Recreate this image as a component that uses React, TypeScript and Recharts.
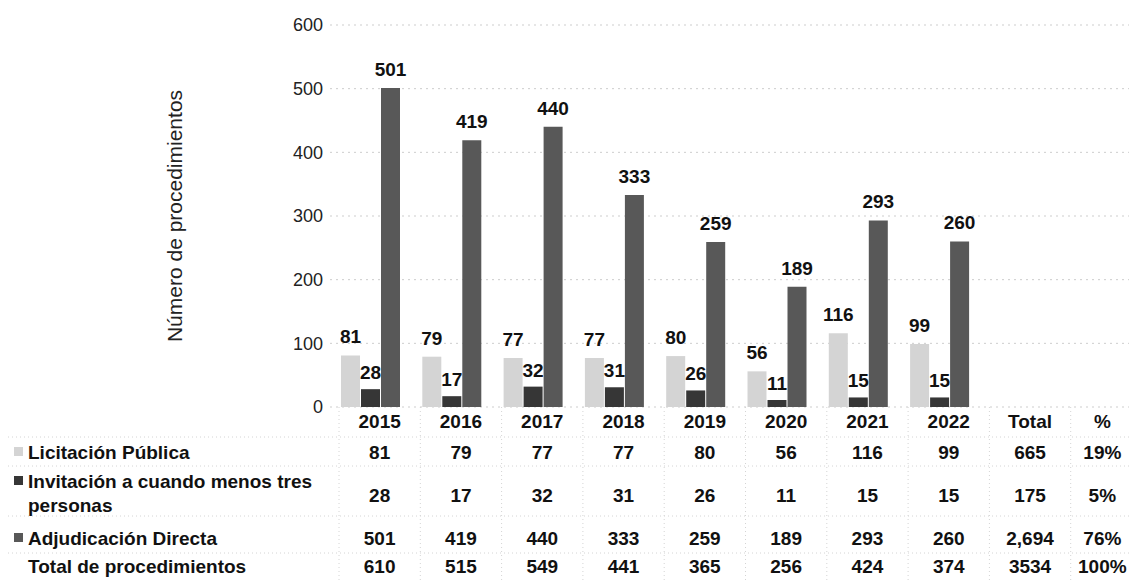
import React from 'react'
import { BarChart, Bar, XAxis, YAxis, CartesianGrid, LabelList } from 'recharts'

const years = ['2015', '2016', '2017', '2018', '2019', '2020', '2021', '2022']
const extraCols = ['Total', '%']
const licitacion = [81, 79, 77, 77, 80, 56, 116, 99]
const invitacion = [28, 17, 32, 31, 26, 11, 15, 15]
const adjudicacion = [501, 419, 440, 333, 259, 189, 293, 260]
const totales = [610, 515, 549, 441, 365, 256, 424, 374]
const licitacionResumen = ['665', '19%']
const invitacionResumen = ['175', '5%']
const adjudicacionResumen = ['2,694', '76%']
const totalesResumen = ['3534', '100%']
const yTicks = [0, 100, 200, 300, 400, 500, 600]

const FONT = '"Liberation Sans", Arial, sans-serif'
const C_LIC = '#d4d4d4'
const C_INV = '#363636'
const C_ADJ = '#585858'

const categories = [...years, ...extraCols]

const data = categories.map((cat, i) => ({
  cat,
  lic: i < years.length ? licitacion[i] : null,
  inv: i < years.length ? invitacion[i] : null,
  adj: i < years.length ? adjudicacion[i] : null,
}))

const tableRows = [
  { values: categories, dy: 14 },
  { values: [...licitacion.map(String), ...licitacionResumen], dy: 45 },
  { values: [...invitacion.map(String), ...invitacionResumen], dy: 88 },
  { values: [...adjudicacion.map(String), ...adjudicacionResumen], dy: 131 },
  { values: [...totales.map(String), ...totalesResumen], dy: 159 },
]

// row titles on the left of the data table
const rowTitles = [
  { lines: ['Licitación Pública'], y: 444, swatch: C_LIC },
  { lines: ['Invitación a cuando menos tres', 'personas'], y: 473, swatch: C_INV },
  { lines: ['Adjudicación Directa'], y: 530, swatch: C_ADJ },
  { lines: ['Total de procedimientos'], y: 558, swatch: null },
]

const BAND = 81.3

function TableTick(props: any) {
  const { x, y, payload } = props
  const i = categories.indexOf(payload.value)
  // last column (%) sits a little narrower at the page edge
  const cx = x + (i === categories.length - 1 ? 0 : 9)
  return (
    <g>
      <line x1={x + 9 - BAND / 2} x2={x + 9 - BAND / 2} y1={y} y2={y + 175} stroke="#d4d4d4" strokeDasharray="1 3" />
      {tableRows.map((r, k) => (
        <text
          key={k}
          x={cx}
          y={y + r.dy}
          textAnchor="middle"
          dominantBaseline="central"
          fontFamily={FONT}
          fontWeight="bold"
          fontSize={19}
          fill="#111"
        >
          {r.values[i]}
        </text>
      ))}
    </g>
  )
}

export default function App() {
  return (
    <div style={{ position: 'relative', width: 1129, height: 572, overflow: 'hidden', fontFamily: FONT }}>
      <BarChart
        width={1160}
        height={572}
        data={data}
        margin={{ top: 17, right: 25, left: 0, bottom: 0 }}
        barSize={19}
        barGap={1}
      >
        <CartesianGrid vertical={false} stroke="#cdcdcd" strokeDasharray="2 4" />
        <XAxis
          dataKey="cat"
          height={173}
          axisLine={false}
          tickLine={false}
          tickSize={0}
          tickMargin={0}
          interval={0}
          tick={<TableTick />}
        />
        <YAxis
          width={322}
          domain={[0, 600]}
          ticks={yTicks}
          axisLine={false}
          tickLine={false}
          tickSize={0}
          tickMargin={7}
          tick={{ fill: '#222', fontSize: 18, fontFamily: FONT }}
          label={{
            value: 'Número de procedimientos',
            angle: -90,
            position: 'center',
            dx: 6,
            style: { fill: '#222', fontSize: 21, fontFamily: FONT, textAnchor: 'middle' },
          }}
        />
        <Bar dataKey="lic" fill={C_LIC} isAnimationActive={false}>
          <LabelList dataKey="lic" position="top" offset={12} fill="#111" fontSize={19} fontWeight="bold" fontFamily={FONT} />
        </Bar>
        <Bar dataKey="inv" fill={C_INV} isAnimationActive={false}>
          <LabelList dataKey="inv" position="top" offset={10} fill="#111" fontSize={19} fontWeight="bold" fontFamily={FONT} />
        </Bar>
        <Bar dataKey="adj" fill={C_ADJ} isAnimationActive={false}>
          <LabelList dataKey="adj" position="top" offset={12} fill="#111" fontSize={19} fontWeight="bold" fontFamily={FONT} />
        </Bar>
      </BarChart>
      <svg width={1129} height={572} style={{ position: 'absolute', left: 0, top: 0, pointerEvents: 'none' }}>
        {[429, 458, 508, 545].map((yy) => (
          <line key={yy} x1={0} x2={1129} y1={yy} y2={yy} stroke="#d4d4d4" strokeDasharray="1 3" />
        ))}
        {rowTitles.map((r, k) => (
          <g key={k}>
            {r.swatch && <rect x={6} y={r.y - 5} width={9} height={9} fill={r.swatch} />}
            {r.lines.map((ln, j) => (
              <text
                key={j}
                x={20}
                y={r.y + j * 24}
                dominantBaseline="central"
                fontFamily={FONT}
                fontWeight="bold"
                fontSize={19}
                fill="#111"
              >
                {ln}
              </text>
            ))}
          </g>
        ))}
      </svg>
    </div>
  )
}
